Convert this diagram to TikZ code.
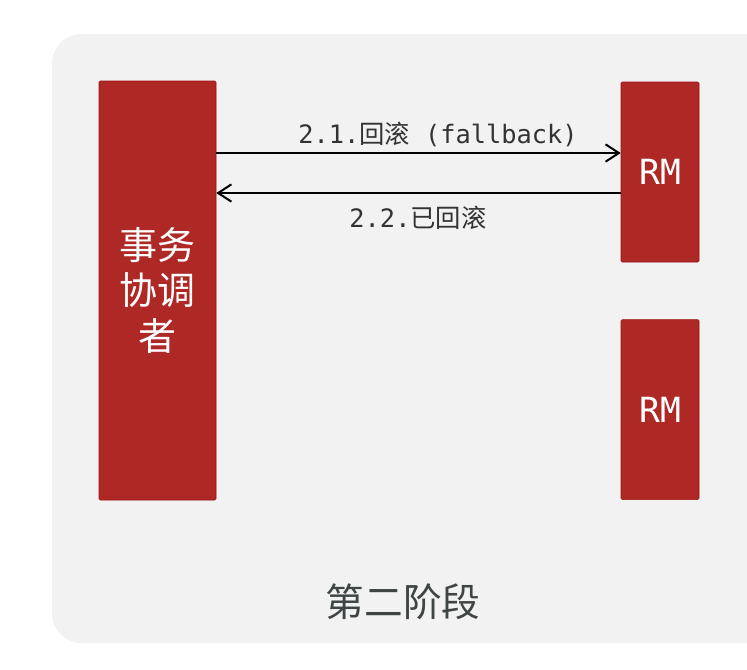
\documentclass[tikz,border=0pt]{standalone}
\usepackage{fontspec}
\setmonofont{DejaVu Sans Mono}
\newfontfamily\cjk{Noto Sans CJK SC}
\usetikzlibrary{positioning,arrows.meta}
\definecolor{boxred}{HTML}{AE2825}
\definecolor{boxedge}{HTML}{9E1010}
\definecolor{panel}{HTML}{F2F2F2}
\definecolor{labelgray}{HTML}{333333}
\definecolor{titlegray}{HTML}{3F4545}
\tikzstyle{party} = [rectangle, draw=boxedge, fill=boxred, text=white, rounded corners=1pt, align=center, inner sep=0pt]
\tikzstyle{msglabel} = [draw=none, fill=none, text=labelgray, font=\fontsize{19}{22}\selectfont]
\tikzstyle{msg} = [draw, line width=1.5pt, -{Straight Barb[length=10pt,width=13pt]}]

\begin{document}
\begin{tikzpicture}[x=0.75pt, y=-0.75pt]
	% page and panel
	\clip (0,0) rectangle (747,669);
	\fill [panel, rounded corners=22pt] (52,34) rectangle (775,643);
	% place nodes
	\node [party, minimum width=87.75pt, minimum height=314.25pt,
		font=\cjk\fontsize{28.5}{34}\selectfont] (coord) at (157.5,290.5)
		{事务\\协调\\者};
	\node [party, minimum width=58.5pt, minimum height=135pt] (rm1) at (660,172)
		{\ttfamily\fontsize{26}{30}\selectfont RM};
	\node [party, minimum width=58.5pt, minimum height=135pt, below=42.75pt of rm1] (rm2)
		{\ttfamily\fontsize{26}{30}\selectfont RM};
	\coordinate (lane1) at (0,153);
	\coordinate (lane2) at (0,193);

	% draw edges
	\path [msg] (coord.east |- lane1) -- (rm1.west |- lane1);
	\path [msg] (rm1.west |- lane2) -- (coord.east |- lane2);
	\node [msglabel] (msg1) at (438,134) {{\ttfamily 2.1.}{\cjk 回滚}{\ttfamily\ (fallback)}};
	\node [msglabel] (msg2) at (418,218) {{\ttfamily 2.2.}{\cjk 已回滚}};

	% stage title
	\node [text=titlegray] (stage) at (403,602) {\cjk\fontsize{29}{34}\selectfont 第二阶段};
\end{tikzpicture}
\end{document}
